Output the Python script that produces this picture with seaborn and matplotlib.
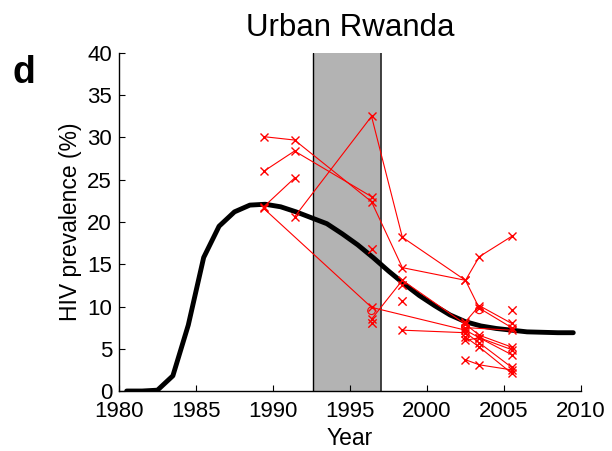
import numpy as np
import pandas as pd
import matplotlib
matplotlib.use('Agg')
import matplotlib.pyplot as plt
import seaborn as sns

# model curve (mid-year values)
model_years = [1980.5, 1981.5, 1982.5, 1983.5, 1984.5, 1985.5, 1986.5, 1987.5, 1988.5, 1989.5,
               1990.5, 1991.5, 1992.5, 1993.5, 1994.5, 1995.5, 1996.5, 1997.5, 1998.5, 1999.5,
               2000.5, 2001.5, 2002.5, 2003.5, 2004.5, 2005.5, 2006.5, 2007.5, 2008.5, 2009.5]
model_prev = [0.0, 0.0, 0.1, 1.8, 7.8, 15.8, 19.5, 21.2, 22.0, 22.1,
              21.8, 21.2, 20.5, 19.8, 18.6, 17.3, 15.8, 14.2, 12.7, 11.3,
              10.1, 9.0, 8.2, 7.7, 7.4, 7.2, 7.0, 6.95, 6.9, 6.9]

# survey sites (year, prevalence)
site_a = [(1989.4, 30.1), (1991.4, 29.7), (1996.4, 22.4), (1998.4, 14.6), (2002.5, 13.1), (2003.4, 9.8), (2005.5, 7.5)]
site_b = [(1989.4, 26.0), (1991.4, 28.4), (1996.4, 23.0)]
site_c = [(1989.4, 21.8), (1991.4, 25.2)]
site_d = [(1991.4, 20.6), (1996.4, 32.5), (1998.4, 18.2), (2002.5, 13.1), (2003.4, 15.9), (2005.5, 18.3)]
site_e = [(1989.4, 21.6), (1996.4, 9.9), (2002.5, 7.2), (2003.4, 6.3), (2005.5, 4.9)]
site_f = [(1996.4, 8.5), (1998.4, 13.1), (2002.5, 7.9), (2003.4, 6.6), (2005.5, 5.2)]
site_g = [(1998.4, 7.2), (2002.5, 6.9), (2003.4, 5.7), (2005.5, 2.8)]
site_h = [(2002.5, 3.7), (2003.4, 3.1), (2005.5, 2.5)]
site_i = [(2002.5, 8.2), (2003.4, 10.1), (2005.5, 8.0)]
site_j = [(2002.5, 6.4), (2003.4, 5.2), (2005.5, 2.1)]
site_k = [(2002.5, 6.0), (2003.4, 6.3), (2005.5, 4.3)]
site_l = [(2002.5, 7.5), (2005.5, 7.2)]
single_pts = [(1996.4, 16.8), (1996.4, 8.0), (1998.4, 10.6), (1998.4, 12.6), (2005.5, 9.6)]
circle_pts = [(1996.4, 9.5), (2003.4, 9.6), (2002.5, 7.6)]

intervention = (1992.6, 1997.0)

sites = [site_a, site_b, site_c, site_d, site_e, site_f, site_g, site_h, site_i, site_j, site_k, site_l]
rows = []
for i, s in enumerate(sites):
    for yr, v in s:
        rows.append({'site': i, 'year': yr, 'prev': v})
df_sites = pd.DataFrame(rows)
df_model = pd.DataFrame({'year': model_years, 'prev': model_prev})
df_single = pd.DataFrame(single_pts, columns=['year', 'prev'])
df_circle = pd.DataFrame(circle_pts, columns=['year', 'prev'])

sns.set_style('ticks')
plt.rcParams['font.family'] = ['Liberation Sans', 'DejaVu Sans']
for k in ['text.color', 'axes.labelcolor', 'xtick.color', 'ytick.color', 'axes.edgecolor']:
    plt.rcParams[k] = 'black'

fig = plt.figure(figsize=(6.12, 4.51), dpi=100)
ax = fig.add_axes([0.1944, 0.133, 0.7549, 0.7495])

ax.axvspan(intervention[0], intervention[1], facecolor='#b3b3b3', edgecolor='none', zorder=0)
ax.axvline(intervention[0], color='black', lw=1, zorder=1)
ax.axvline(intervention[1], color='#333333', lw=1.3, zorder=1)

sns.lineplot(data=df_model, x='year', y='prev', color='black', lw=3.5, ax=ax, zorder=2)
sns.lineplot(data=df_sites, x='year', y='prev', units='site', estimator=None, sort=False,
             color='red', lw=0.8, marker='x', markersize=6, markeredgewidth=1,
             markeredgecolor='red', ax=ax, zorder=3)
sns.scatterplot(data=df_single, x='year', y='prev', marker='x', color='red', s=36, linewidth=1, ax=ax, zorder=3)
sns.scatterplot(data=df_circle, x='year', y='prev', marker='o', facecolor='none', edgecolor='red', s=30, linewidth=0.8, ax=ax, zorder=3)

ax.set_xlim(1980, 2010)
ax.set_ylim(0, 40)
ax.set_xticks(np.arange(1980, 2011, 5))
ax.set_yticks(np.arange(0, 41, 5))
ax.tick_params(direction='in', length=4, width=0.8, labelsize=16)
ax.tick_params(axis='y', pad=5)
ax.tick_params(axis='x', pad=7)
for sp in ['top', 'right']:
    ax.spines[sp].set_visible(False)
for sp in ['left', 'bottom']:
    ax.spines[sp].set_linewidth(1.0)
ax.set_xlabel('Year', fontsize=16.5, labelpad=4)
ax.set_ylabel('HIV prevalence (%)', fontsize=16.5, labelpad=4)
ax.set_title('Urban Rwanda', fontsize=22.5, pad=12)
fig.text(0.02, 0.815, 'd', fontsize=27, fontweight='bold')

fig.savefig('out.png', dpi=100)
